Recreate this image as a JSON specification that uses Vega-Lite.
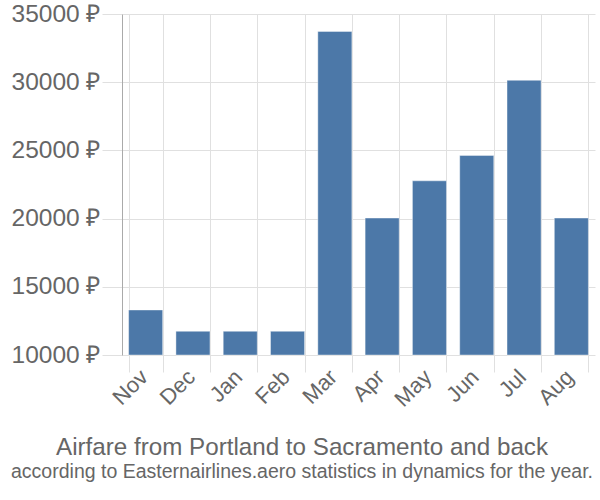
{
  "$schema": "https://vega.github.io/schema/vega-lite/v6.json",
  "width": 473,
  "height": 341,
  "autosize": {"type": "none"},
  "padding": {"left": 122, "top": 14, "right": 5, "bottom": 145},
  "background": "white",
  "title": {
    "text": "Airfare from Portland to Sacramento and back",
    "subtitle": "according to Easternairlines.aero statistics in dynamics for the year.",
    "orient": "bottom",
    "anchor": "middle",
    "frame": "bounds",
    "offset": 26,
    "font": "Liberation Sans",
    "fontSize": 24.2,
    "fontWeight": "normal",
    "color": "#666666",
    "subtitleFont": "Liberation Sans",
    "subtitleFontSize": 19.5,
    "subtitleColor": "#666666",
    "subtitlePadding": 3,
    "dx": -1
  },
  "data": {
    "values": [
      {"month": "Nov", "price": 13300},
      {"month": "Dec", "price": 11740},
      {"month": "Jan", "price": 11740},
      {"month": "Feb", "price": 11740},
      {"month": "Mar", "price": 33720},
      {"month": "Apr", "price": 20040},
      {"month": "May", "price": 22770},
      {"month": "Jun", "price": 24630},
      {"month": "Jul", "price": 30140},
      {"month": "Aug", "price": 20040}
    ]
  },
  "mark": {"type": "bar", "color": "#4c78a8", "stroke": "#ffffff", "strokeOpacity": 0.4, "strokeWidth": 1},
  "encoding": {
    "x": {
      "field": "month",
      "type": "nominal",
      "sort": null,
      "title": null,
      "scale": {"paddingInner": 0.28, "paddingOuter": 0.14},
      "axis": {
        "labelAngle": -45,
        "labelFont": "Liberation Sans",
        "labelFontSize": 22,
        "labelColor": "#666666",
        "labelPadding": -6,
        "labelOffset": -9,
        "grid": true,
        "gridColor": "#e0e0e0",
        "ticks": true,
        "tickSize": 17,
        "tickColor": "#e0e0e0",
        "tickBand": "extent",
        "domain": false
      }
    },
    "y": {
      "field": "price",
      "type": "quantitative",
      "title": null,
      "scale": {"domain": [10000, 35000], "nice": false, "zero": false},
      "axis": {
        "values": [10000, 15000, 20000, 25000, 30000, 35000],
        "labelExpr": "datum.value + ' ₽'",
        "labelFont": "Liberation Sans",
        "labelFontSize": 24.5,
        "labelColor": "#666666",
        "labelPadding": 2,
        "grid": true,
        "gridColor": "#e0e0e0",
        "tickSize": 20,
        "tickColor": "#e0e0e0",
        "domain": true,
        "domainColor": "#aaaaaa"
      }
    },
    "y2": {"datum": 10000}
  },
  "config": {"view": {"stroke": null}}
}
